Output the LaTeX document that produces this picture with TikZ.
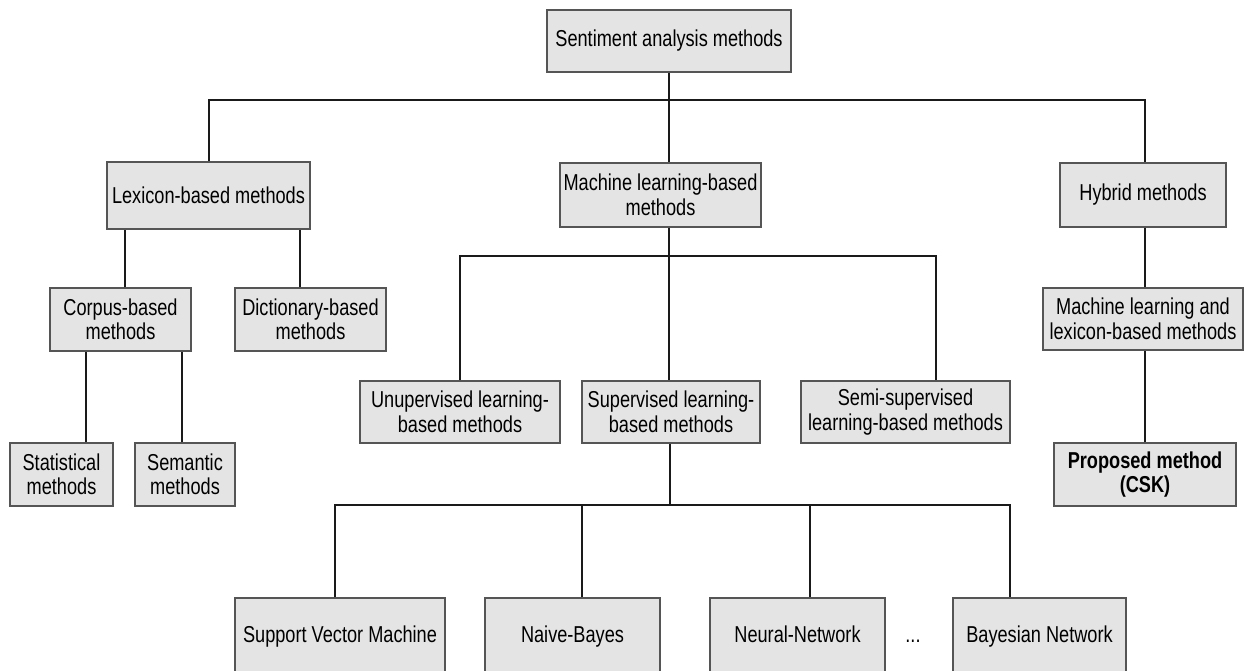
\documentclass[tikz,border=0pt]{standalone}
\usepackage{fontspec}
\setmainfont[FakeStretch=0.79]{Liberation Sans}
\definecolor{boxfill}{HTML}{E4E4E4}
\definecolor{boxline}{HTML}{555555}
\definecolor{wire}{HTML}{1A1A1A}
\begin{document}
\begin{tikzpicture}[x=1pt,y=-1pt,
  box/.style={draw=boxline, fill=boxfill, line width=1.5pt, inner sep=0pt,
    align=center, font=\fontsize{23}{24.5}\selectfont, text=black},
  leafbox/.style={box, minimum height=78pt, text height=16.5pt, text depth=4.8pt},
  wirestyle/.style={draw=wire, line width=2pt}]
\useasboundingbox (0,0) rectangle (1248,671);
\clip (0,0) rectangle (1248,671);
% nodes
\node[box, minimum width=244pt, minimum height=62pt] (top) at (669,41) {Sentiment analysis methods};
\node[box, minimum width=203pt, minimum height=67pt] (lex) at (208.5,195.5) {Lexicon-based methods};
\node[box, minimum width=201pt, minimum height=64pt] (ml) at (660.5,195) {Machine learning-based\\methods};
\node[box, minimum width=166pt, minimum height=64pt] (hyb) at (1143,195) {Hybrid methods};
\node[box, minimum width=200pt, minimum height=62pt] (mll) at (1143,319) {Machine learning and\\lexicon-based methods};
\node[box, minimum width=182pt, minimum height=63pt, font=\fontsize{23}{24.5}\selectfont\bfseries] (prop) at (1145,474.5) {Proposed method\\(CSK)};
\node[box, minimum width=141pt, minimum height=63pt] (corpus) at (120.5,319.5) {Corpus-based\\methods};
\node[box, minimum width=151pt, minimum height=63pt] (dict) at (310.5,319.5) {Dictionary-based\\methods};
\node[box, minimum width=103pt, minimum height=63pt] (stat) at (61.5,474.5) {Statistical\\methods};
\node[box, minimum width=100pt, minimum height=63pt] (sem) at (185,474.5) {Semantic\\methods};
\node[box, minimum width=200pt, minimum height=62pt] (unsup) at (460,412) {Unupervised learning-\\based methods};
\node[box, minimum width=178pt, minimum height=62pt] (sup) at (671,412) {Supervised learning-\\based methods};
\node[box, minimum width=209pt, minimum height=62pt] (semi) at (905.5,412) {Semi-supervised\\learning-based methods};
\node[leafbox, minimum width=210pt] (svm) at (340,637) {Support Vector Machine};
\node[leafbox, minimum width=175pt] (nb) at (572.5,637) {Naive-Bayes};
\node[leafbox, minimum width=175pt] (nn) at (797.5,637) {Neural-Network};
\node[leafbox, minimum width=173pt] (bn) at (1039.5,637) {Bayesian Network};
\node[font=\fontsize{23}{24.5}\selectfont, text=black, inner sep=0pt, text height=16.5pt, text depth=4.8pt] (dots) at (913,637) {...};
% bus coordinates
\coordinate (bus1) at (0,100);
\coordinate (bus2) at (0,256);
\coordinate (bus3) at (0,505);
% level 1
\draw[wirestyle] (top.south) -- (top.south |- ml.north);
\draw[wirestyle] (lex.north) -- (lex.north |- bus1) -- ([xshift=2pt]hyb.north |- bus1) -- ([xshift=2pt]hyb.north);
% lexicon branch
\draw[wirestyle] ([xshift=4.5pt]corpus.north) -- ([xshift=4.5pt]corpus.north |- lex.south);
\draw[wirestyle] ([xshift=-10.5pt]dict.north) -- ([xshift=-10.5pt]dict.north |- lex.south);
\draw[wirestyle] ([xshift=24.5pt]stat.north) -- ([xshift=24.5pt]stat.north |- corpus.south);
\draw[wirestyle] ([xshift=-3pt]sem.north) -- ([xshift=-3pt]sem.north |- corpus.south);
% machine learning branch
\draw[wirestyle] ([xshift=8.5pt]ml.south) -- ([xshift=8.5pt]ml.south |- sup.north);
\draw[wirestyle] (unsup.north) -- (unsup.north |- bus2) -- ([xshift=30.5pt]semi.north |- bus2) -- ([xshift=30.5pt]semi.north);
% supervised branch
\draw[wirestyle] ([xshift=-1pt]sup.south) -- ([xshift=-1pt]sup.south |- bus3);
\draw[wirestyle] ([xshift=-5pt]svm.north) -- ([xshift=-5pt]svm.north |- bus3) -- ([xshift=-29.5pt]bn.north |- bus3) -- ([xshift=-29.5pt]bn.north);
\draw[wirestyle] ([xshift=9.5pt]nb.north) -- ([xshift=9.5pt]nb.north |- bus3);
\draw[wirestyle] ([xshift=12.5pt]nn.north) -- ([xshift=12.5pt]nn.north |- bus3);
% hybrid branch
\draw[wirestyle] ([xshift=2pt]hyb.south) -- ([xshift=2pt]hyb.south |- mll.north);
\draw[wirestyle] (prop.north) -- (prop.north |- mll.south);
\end{tikzpicture}
\end{document}
